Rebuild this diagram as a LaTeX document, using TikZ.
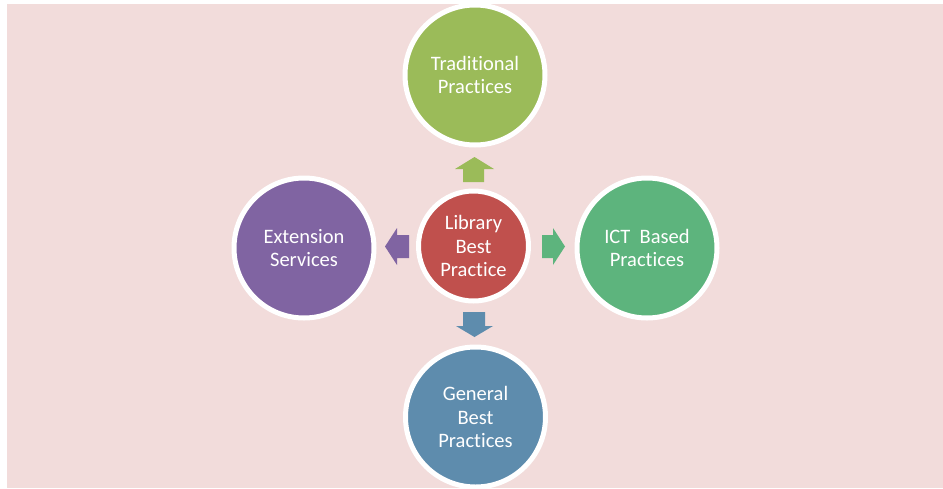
\documentclass[tikz,border=0pt]{standalone}
\usepackage{fontspec}
\setmainfont{Carlito}[Ligatures=NoCommon]
\definecolor{bgpink}{HTML}{F2DCDB}
\definecolor{cgreen}{HTML}{9BBB59}
\definecolor{cred}{HTML}{C0504D}
\definecolor{cpurple}{HTML}{8064A2}
\definecolor{cteal}{HTML}{5DB47D}
\definecolor{cblue}{HTML}{5E8CAD}
\begin{document}
\begin{tikzpicture}[x=1pt,y=-1pt,
  bub/.style={circle, draw=white, line width=5pt, inner sep=0pt, minimum size=140pt,
    text=white, align=center, font=\fontsize{20.5}{23.5}\selectfont},
  hub/.style={bub, minimum size=110pt}]
\useasboundingbox (0,0) rectangle (943,488);
\fill[white] (0,0) rectangle (943,488);
\fill[bgpink] (7,4) rectangle (943,488);

\node[hub, fill=cred] (c) at (473.5,246) {Library\\Best\\Practice};
\node[bub, fill=cgreen] (t) at (475,75) {Traditional\\Practices};
\node[bub, fill=cpurple] (e) at (304,248) {Extension\\Services};
\node[bub, fill=cteal] (i) at (647,248) {ICT~ Based\\Practices};
\node[bub, fill=cblue] (g) at (475.5,417) {General\\Best\\Practices};

% block arrows
\fill[cgreen] (474.5,157) -- (494,169) -- (484,169) -- (484,182) -- (463,182) -- (463,169) -- (455,169) -- cycle;
\fill[cpurple] (385,246.5) -- (397,228) -- (397,235) -- (409,235) -- (409,258) -- (397,258) -- (397,265) -- cycle;
\fill[cteal] (565,246.5) -- (553,228) -- (553,235) -- (542,235) -- (542,258) -- (553,258) -- (553,265) -- cycle;
\fill[cblue] (474.5,337) -- (493,326) -- (485,326) -- (485,312) -- (463,312) -- (463,326) -- (456,326) -- cycle;
\end{tikzpicture}
\end{document}
